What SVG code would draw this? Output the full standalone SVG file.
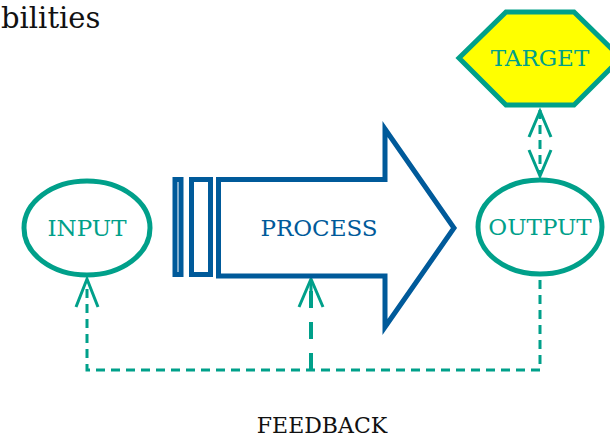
<svg xmlns="http://www.w3.org/2000/svg" width="610" height="438" viewBox="0 0 610 438">
  <defs>
    <style>
      .lbl { font-family: "DejaVu Serif", "Liberation Serif", serif; font-size: 23px; text-anchor: middle; dominant-baseline: central; }
      .teal { fill: #00a08a; }
      .blue { fill: #005a9a; }
      .ring { fill: #ffffff; stroke: #00a08a; stroke-width: 5; }
      .flow { fill: none; stroke: #00a08a; stroke-width: 3; stroke-dasharray: 9 6; }
      .head { fill: none; stroke: #00a08a; stroke-width: 3; }
      .shaft { fill: #ffffff; stroke: #005a9a; stroke-width: 5; }
    </style>
  </defs>

  <!-- page heading -->
  <text x="1" y="28" font-family="DejaVu Serif, Liberation Serif, serif" font-size="29" fill="#111">bilities</text>

  <!-- connectors -->
  <g id="connectors">
    <!-- target <-> output -->
    <line class="flow" x1="540" y1="110" x2="540" y2="175"/>
    <polyline class="head" points="529,137 540,111 551,137"/>
    <polyline class="head" points="529,150 540,176 551,150"/>
    <!-- feedback loop -->
    <polyline class="flow" points="540,280 540,370 87,370 87,280"/>
    <polyline class="head" points="76,307 87,279 98,307"/>
    <line x1="311" y1="370" x2="311" y2="284" stroke="#00a08a" stroke-width="4" stroke-dasharray="17 14"/>
    <polyline class="head" points="299,307 311,279 323,307"/>
    <line class="head" x1="311" y1="282" x2="311" y2="307"/>
  </g>

  <g id="input">
    <ellipse class="ring" cx="87" cy="228" rx="63" ry="47"/>
    <text class="lbl teal" x="87" y="228">INPUT</text>
  </g>

  <g id="process">
    <rect class="shaft" x="175" y="179.5" width="6" height="95"/>
    <rect class="shaft" x="191.5" y="179.5" width="19" height="95"/>
    <polygon class="shaft" points="218.5,179.5 385,179.5 385,129 454,228 385,327 385,276 218.5,276"/>
    <text class="lbl blue" x="319" y="228">PROCESS</text>
  </g>

  <g id="output">
    <ellipse class="ring" cx="540" cy="227" rx="62" ry="47"/>
    <text class="lbl teal" x="540" y="227">OUTPUT</text>
  </g>

  <g id="target">
    <polygon points="459,58 506,12 574,12 621,58 574,105 506,105" fill="#ffff00" stroke="#00a08a" stroke-width="5"/>
    <text class="lbl teal" x="540" y="58">TARGET</text>
  </g>

  <text x="322" y="425" font-family="DejaVu Serif, Liberation Serif, serif" font-size="22" text-anchor="middle" dominant-baseline="central" fill="#111">FEEDBACK</text>
</svg>
